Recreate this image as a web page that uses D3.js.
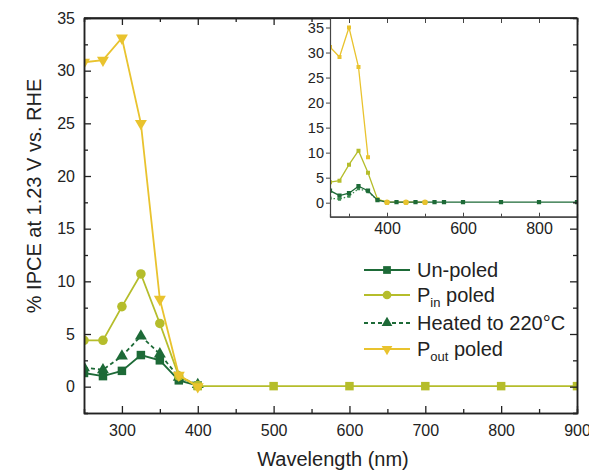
<!DOCTYPE html>
<html>
<head>
<meta charset="utf-8">
<script src="https://cdn.jsdelivr.net/npm/d3@7"></script>
<style>
  body { margin: 0; background: #fff; }
  text { font-family: "Liberation Sans", Arial, sans-serif; fill: #222; }
</style>
</head>
<body>
<svg width="589" height="470"></svg>
<script>
// main chart data
var wl = [250, 275, 300, 325, 350, 375, 400]
var unpoled = [1.3, 1.0, 1.5, 3.0, 2.5, 0.6, 0.1]
var heated = [1.8, 1.6, 2.9, 4.8, 3.1, 0.9, 0.2]
var pin = [4.4, 4.4, 7.6, 10.7, 6.0, 1.0, 0.1]
var pout = [30.8, 31.0, 33.1, 25.0, 8.3, 1.1, 0.0]
var tailWl = [400, 500, 600, 700, 800, 900]
var tailVals = [0.05, 0.05, 0.05, 0.05, 0.05, 0.05]

// inset data
var insetWl = [250, 275, 300, 325, 350, 375, 400, 425, 450, 475, 500, 525, 550, 600, 700, 800, 900]
var insetUnpoled = [2.4, 1.4, 1.9, 3.3, 2.4, 0.5, 0.1, 0.1, 0.1, 0.1, 0.1, 0.1, 0.1, 0.1, 0.1, 0.1, 0.1]
var insetHeatedWl = [250, 275, 300, 325, 350, 375, 400]
var insetHeated = [0.9, 0.7, 1.3, 2.8, 2.2, 0.5, 0.1]
var insetPinWl = [250, 275, 300, 325, 350, 375, 400]
var insetPin = [4.1, 4.4, 7.6, 10.4, 6.0, 0.7, 0.1]
var insetPoutWl = [250, 275, 300, 325, 350, 375, 400, 450, 500]
var insetPout = [31.1, 29.1, 35.0, 27.1, 9.1, null, 0.1, 0.1, 0.1]

var xTicks = [300, 400, 500, 600, 700, 800, 900]
var yTicks = [0, 5, 10, 15, 20, 25, 30, 35]
var insetXTicks = [400, 600, 800]

var darkGreen = "#1d6a37"
var midGreen = "#3b8a4f"
var olive = "#b5bd2b"
var yellow = "#e9c32e"
var axisCol = "#222"

var svg = d3.select("svg")

var margins = {left: 84, right: 12, top: 18, bottom: 57}
var width = 589 - margins.left - margins.right
var height = 470 - margins.top - margins.bottom

var x = d3.scaleLinear().domain([250, 900]).range([margins.left, margins.left + width])
var y = d3.scaleLinear().domain([-2.5, 35]).range([margins.top + height, margins.top])

svg.append("clipPath").attr("id", "mainclip").append("rect")
  .attr("x", margins.left).attr("y", margins.top).attr("width", width).attr("height", height)

function shapeSym(type, size) {
  return d3.symbol().type(type).size(size)
}

function drawSeries(g, xs, ys, xsc, ysc, color, lw, dash, sym, msize, rot) {
  var pts = xs.map(function(d, i){ return [d, ys[i]] })
  var line = d3.line()
    .defined(function(d){ return d[1] !== null })
    .x(function(d){ return xsc(d[0]) })
    .y(function(d){ return ysc(d[1]) })
  g.append("path")
    .attr("d", line(pts))
    .attr("fill", "none")
    .attr("stroke", color)
    .attr("stroke-width", lw)
    .attr("stroke-dasharray", dash)
  g.selectAll(null)
    .data(pts.filter(function(d){ return d[1] !== null }))
    .enter()
    .append("path")
    .attr("d", shapeSym(sym, msize))
    .attr("transform", function(d){
      return "translate(" + xsc(d[0]) + "," + ysc(d[1]) + ") rotate(" + (rot || 0) + ")" })
    .attr("fill", color)
}

var plot = svg.append("g").attr("clip-path", "url(#mainclip)")
drawSeries(plot, wl, unpoled, x, y, darkGreen, 1.8, null, d3.symbolSquare, 72)
drawSeries(plot, wl, heated, x, y, darkGreen, 1.8, "4,3", d3.symbolTriangle, 62)
drawSeries(plot, wl, pin, x, y, olive, 1.8, null, d3.symbolCircle, 72)
drawSeries(plot, tailWl, tailVals, x, y, olive, 1.8, null, d3.symbolSquare, 72)
drawSeries(plot, wl, pout, x, y, yellow, 1.8, null, d3.symbolTriangle, 62, 180)

// main axes (ticks inward)
function addAxis(axis, tx, ty) {
  var g = svg.append("g").attr("transform", "translate(" + tx + "," + ty + ")").call(axis)
  g.select(".domain").attr("stroke", axisCol).attr("stroke-width", 1.5)
  g.selectAll(".tick line").attr("stroke", axisCol).attr("stroke-width", 1.3)
  g.selectAll("text").attr("font-size", "16px").attr("fill", axisCol)
    .attr("font-family", "Liberation Sans, Arial, sans-serif")
  return g
}
var xMinor = [350, 450, 550, 650, 750, 850]
var yMinor = [-2.5, 2.5, 7.5, 12.5, 17.5, 22.5, 27.5, 32.5]

addAxis(d3.axisBottom(x).tickValues(xTicks).tickSizeInner(-7).tickSizeOuter(0).tickPadding(12), 0, margins.top + height)
addAxis(d3.axisBottom(x).tickValues(xMinor).tickSize(-4).tickFormat(""), 0, margins.top + height)
addAxis(d3.axisLeft(y).tickValues(yTicks).tickSizeInner(-7).tickSizeOuter(0).tickPadding(9), margins.left, 0)
addAxis(d3.axisLeft(y).tickValues(yMinor).tickSize(-4).tickFormat(""), margins.left, 0)
addAxis(d3.axisTop(x).tickValues(xTicks).tickSizeInner(-7).tickSizeOuter(0).tickFormat(""), 0, margins.top)
addAxis(d3.axisTop(x).tickValues(xMinor).tickSize(-4).tickFormat(""), 0, margins.top)

// inset
var ix0 = 330, iy0 = 18, ix1 = margins.left + width, iy1 = 216.7
var xi = d3.scaleLinear().domain([250, 900]).range([ix0, ix1])
var yi = d3.scaleLinear().domain([-2.8, 36.9]).range([iy1, iy0])

svg.append("rect").attr("x", ix0).attr("y", iy0).attr("width", ix1 - ix0).attr("height", iy1 - iy0)
  .attr("fill", "#fff")
svg.append("clipPath").attr("id", "insetclip").append("rect")
  .attr("x", ix0).attr("y", iy0).attr("width", ix1 - ix0).attr("height", iy1 - iy0)

var inset = svg.append("g").attr("clip-path", "url(#insetclip)")
drawSeries(inset, insetHeatedWl, insetHeated, xi, yi, midGreen, 1.2, "1.5,2", d3.symbolSquare, 10)
drawSeries(inset, insetPinWl, insetPin, xi, yi, olive, 1.3, null, d3.symbolSquare, 16)
drawSeries(inset, insetPoutWl, insetPout, xi, yi, yellow, 1.3, null, d3.symbolSquare, 16)
drawSeries(inset, insetWl, insetUnpoled, xi, yi, darkGreen, 1.3, null, d3.symbolSquare, 18)
// yellow dots at zero drawn on top
inset.selectAll(null)
  .data(insetPoutWl.filter(function(d, i){ return d >= 400 }))
  .enter()
  .append("circle")
  .attr("cx", function(d){ return xi(d) })
  .attr("cy", yi(0.1))
  .attr("r", 2.8)
  .attr("fill", yellow)

function addInsetAxis(axis, tx, ty, fs) {
  var g = svg.append("g").attr("transform", "translate(" + tx + "," + ty + ")").call(axis)
  g.select(".domain").attr("stroke", "#444").attr("stroke-width", 1.2)
  g.selectAll(".tick line").attr("stroke", "#444").attr("stroke-width", 1)
  g.selectAll("text").attr("font-size", fs).attr("fill", axisCol)
    .attr("font-family", "Liberation Sans, Arial, sans-serif")
  return g
}
addInsetAxis(d3.axisBottom(xi).tickValues(insetXTicks).tickSizeInner(-4).tickSizeOuter(0).tickPadding(6), 0, iy1, "16px")
addInsetAxis(d3.axisBottom(xi).tickValues([300, 500, 700]).tickSize(-3).tickFormat(""), 0, iy1, "16px")
addInsetAxis(d3.axisLeft(yi).tickValues(yTicks).tickSizeInner(4).tickSizeOuter(0).tickPadding(2), ix0, 0, "14.5px")
addInsetAxis(d3.axisTop(xi).tickValues([300, 400, 500, 600, 700, 800]).tickSizeInner(-5).tickSizeOuter(0).tickFormat(""), 0, iy0, "14px")

// main right axis drawn over the inset
addAxis(d3.axisRight(y).tickValues(yTicks).tickSizeInner(-7).tickSizeOuter(0).tickFormat(""), margins.left + width, 0)
addAxis(d3.axisRight(y).tickValues(yMinor).tickSize(-4).tickFormat(""), margins.left + width, 0)
svg.append("line").attr("x1", margins.left).attr("x2", margins.left + width)
  .attr("y1", margins.top).attr("y2", margins.top).attr("stroke", axisCol).attr("stroke-width", 1.5)

// axis titles
svg.append("text")
  .attr("x", 333).attr("y", 466)
  .attr("text-anchor", "middle")
  .attr("font-size", "20px")
  .text("Wavelength (nm)")
svg.append("text")
  .attr("transform", "translate(41,196) rotate(-90)")
  .attr("text-anchor", "middle")
  .attr("font-size", "20px")
  .text("% IPCE at 1.23 V vs. RHE")

// legend
var legendItems = [
  {label: "Un-poled", sub: null, rest: null, color: darkGreen, dash: null, sym: d3.symbolSquare, size: 60, rot: 0},
  {label: "P", sub: "in", rest: " poled", color: olive, dash: null, sym: d3.symbolCircle, size: 60, rot: 0},
  {label: "Heated to 220°C", sub: null, rest: null, color: darkGreen, dash: "4,3", sym: d3.symbolTriangle, size: 50, rot: 0},
  {label: "P", sub: "out", rest: " poled", color: yellow, dash: null, sym: d3.symbolTriangle, size: 50, rot: 180}
]
var legendY = [270, 295, 323, 349]
var leg = svg.append("g")
legendItems.forEach(function(d, i){
  var ly = legendY[i]
  leg.append("line").attr("x1", 364).attr("x2", 410).attr("y1", ly).attr("y2", ly)
    .attr("stroke", d.color).attr("stroke-width", 1.8).attr("stroke-dasharray", d.dash)
  leg.append("path").attr("d", shapeSym(d.sym, d.size))
    .attr("transform", "translate(387," + ly + ") rotate(" + d.rot + ")")
    .attr("fill", d.color)
  var t = leg.append("text").attr("x", 417).attr("y", ly + 7).attr("font-size", "20px")
  t.append("tspan").text(d.label)
  if (d.sub) {
    t.append("tspan").attr("font-size", "13px").attr("dy", 5).text(d.sub)
    t.append("tspan").attr("dy", -5).text(d.rest)
  }
})
</script>
</body>
</html>
